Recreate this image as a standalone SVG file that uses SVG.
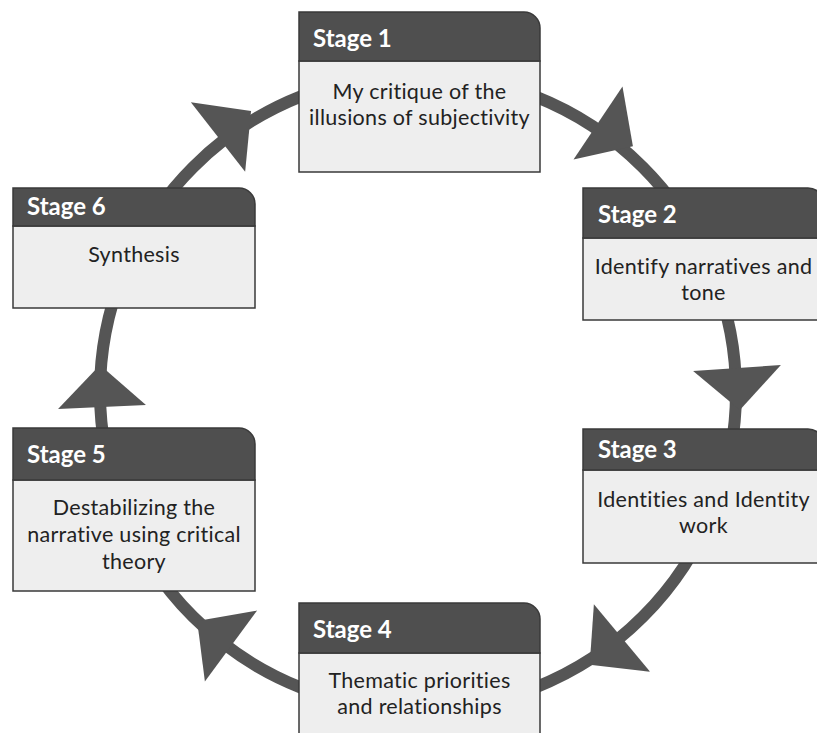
<svg xmlns="http://www.w3.org/2000/svg" xmlns:xlink="http://www.w3.org/1999/xlink" width="817" height="733" viewBox="0 0 817 733">
<style>
.ring{fill:none;stroke:#555555;stroke-width:12}
.ah{fill:#555555}
.body{fill:#eeeeee;stroke:#3a3a3a;stroke-width:1.5}
.head{fill:#4f4f4f;stroke:#3a3a3a;stroke-width:1.5}
.ht{font-family:Lato,"Open Sans",sans-serif;font-weight:bold;font-size:24px;fill:#ffffff}
.bt{font-family:Lato,"Open Sans",sans-serif;font-size:21.5px;fill:#222222;text-anchor:middle;letter-spacing:0.3px}
</style>
<defs>
<polygon id="head" class="ah" points="42,0 0,-44 0,44"/>
</defs>
<rect width="817" height="733" fill="#ffffff"/>
<g id="connectors">
<circle class="ring" cx="418" cy="392" r="318"/>
<use href="#head" xlink:href="#head" transform="translate(598,123) rotate(33.8)"/>
<use href="#head" xlink:href="#head" transform="translate(737,368) rotate(86.1)"/>
<use href="#head" xlink:href="#head" transform="translate(622,638) rotate(140.3)"/>
<use href="#head" xlink:href="#head" transform="translate(231,646) rotate(216.4)"/>
<use href="#head" xlink:href="#head" transform="translate(102,407) rotate(267.3)"/>
<use href="#head" xlink:href="#head" transform="translate(218,137) rotate(-38.1)"/>
</g>
<g id="stage1">
<path class="body" d="M299,61 H540 V172 H299 Z"/>
<path class="head" d="M299,12 H524 A16,16 0 0 1 540,28 V61 H299 Z"/>
<text class="ht" x="313" y="47">Stage 1</text>
<text class="bt" x="419.5" y="99">My critique of the</text>
<text class="bt" x="419.5" y="125">illusions of subjectivity</text>
</g>
<g id="stage2">
<path class="body" d="M583,238 H824 V320 H583 Z"/>
<path class="head" d="M583,188 H808 A16,16 0 0 1 824,204 V238 H583 Z"/>
<text class="ht" x="598" y="223">Stage 2</text>
<text class="bt" x="703.5" y="274">Identify narratives and</text>
<text class="bt" x="703.5" y="300">tone</text>
</g>
<g id="stage3">
<path class="body" d="M583,470 H824 V563 H583 Z"/>
<path class="head" d="M583,429 H808 A16,16 0 0 1 824,445 V470 H583 Z"/>
<text class="ht" x="598" y="458">Stage 3</text>
<text class="bt" x="703.5" y="507">Identities and Identity</text>
<text class="bt" x="703.5" y="533">work</text>
</g>
<g id="stage4">
<path class="body" d="M299,653 H540 V760 H299 Z"/>
<path class="head" d="M299,603 H524 A16,16 0 0 1 540,619 V653 H299 Z"/>
<text class="ht" x="313" y="638">Stage 4</text>
<text class="bt" x="419.5" y="688">Thematic priorities</text>
<text class="bt" x="419.5" y="714">and relationships</text>
</g>
<g id="stage5">
<path class="body" d="M13,480 H255 V591 H13 Z"/>
<path class="head" d="M13,428 H239 A16,16 0 0 1 255,444 V480 H13 Z"/>
<text class="ht" x="27" y="463">Stage 5</text>
<text class="bt" x="134" y="515">Destabilizing the</text>
<text class="bt" x="134" y="542">narrative using critical</text>
<text class="bt" x="134" y="569">theory</text>
</g>
<g id="stage6">
<path class="body" d="M13,226 H255 V308 H13 Z"/>
<path class="head" d="M13,188 H239 A16,16 0 0 1 255,204 V226 H13 Z"/>
<text class="ht" x="27" y="215">Stage 6</text>
<text class="bt" x="134" y="262">Synthesis</text>
</g>
</svg>
